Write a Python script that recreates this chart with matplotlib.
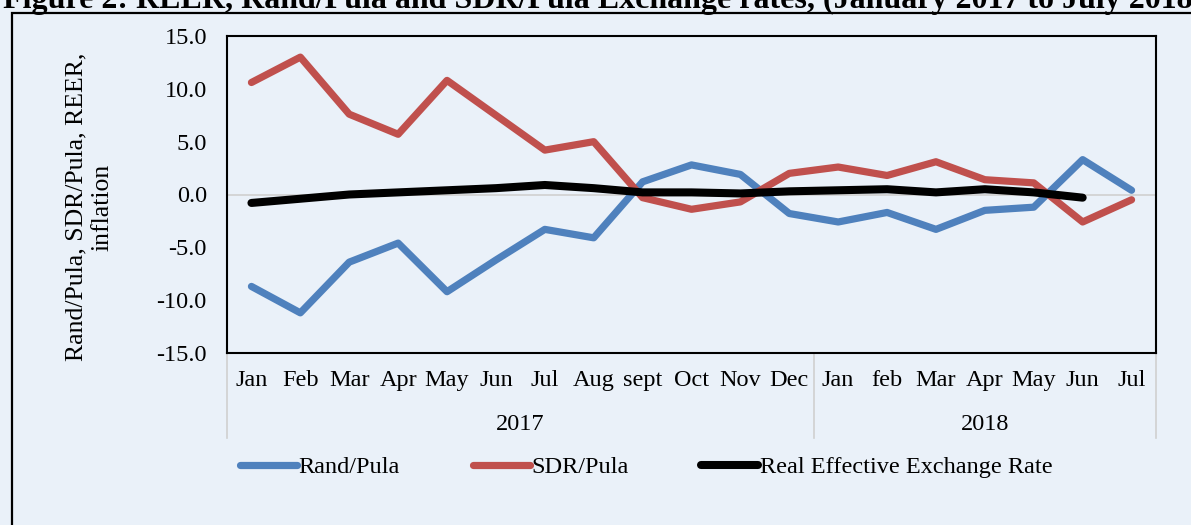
import matplotlib.pyplot as plt
from matplotlib.patches import Rectangle
import matplotlib.transforms as mtransforms

plt.rcParams['font.family'] = ['Liberation Serif', 'DejaVu Serif']

months = ['Jan', 'Feb', 'Mar', 'Apr', 'May', 'Jun', 'Jul', 'Aug', 'sept', 'Oct', 'Nov', 'Dec',
          'Jan', 'feb', 'Mar', 'Apr', 'May', 'Jun', 'Jul']
years = ['2017', '2018']
months_per_year = [12, 7]

rand_pula = [-8.7, -11.2, -6.4, -4.6, -9.2, -6.2, -3.3, -4.1, 1.2, 2.8, 1.9, -1.8,
             -2.6, -1.7, -3.3, -1.5, -1.2, 3.3, 0.4]
sdr_pula = [10.6, 13.0, 7.6, 5.7, 10.8, 7.5, 4.2, 5.0, -0.3, -1.4, -0.7, 2.0,
            2.6, 1.8, 3.1, 1.4, 1.1, -2.6, -0.5]
reer = [-0.8, -0.4, 0.0, 0.2, 0.4, 0.6, 0.9, 0.6, 0.2, 0.2, 0.1, 0.3,
        0.4, 0.5, 0.2, 0.5, 0.2, -0.3]

fs = 17.5
bg = '#eaf1f9'
fig = plt.figure(figsize=(11.91, 5.25), dpi=100, facecolor=bg)
ax = fig.add_axes([227 / 1191, 1 - 353 / 525, 929 / 1191, 317 / 525])
ax.set_facecolor('none')

x = list(range(len(months)))
ax.plot(x, rand_pula, color='#4f81bd', lw=5.2, solid_capstyle='round', solid_joinstyle='round', label='Rand/Pula')
ax.plot(x, sdr_pula, color='#c0504d', lw=5.2, solid_capstyle='round', solid_joinstyle='round', label='SDR/Pula')
ax.plot(x[:len(reer)], reer, color='black', lw=5.8, solid_capstyle='round', solid_joinstyle='round',
        label='Real Effective Exchange Rate')
ax.axhline(0, color='#d0d0d0', lw=1.2, zorder=0)

ax.set_xlim(-0.5, len(months) - 0.5)
ax.set_ylim(-15, 15)
yt = [-15, -10, -5, 0, 5, 10, 15]
ax.set_yticks(yt)
ax.set_yticklabels(['%.1f' % v for v in yt])
ax.set_xticks(x)
ax.set_xticklabels(months)
ax.tick_params(axis='both', length=0, labelsize=fs)
ax.tick_params(axis='y', pad=14.5)
ax.tick_params(axis='x', pad=12)
for s in ax.spines.values():
    s.set_linewidth(1.5)
ax.set_ylabel('Rand/Pula, SDR/Pula, REER,\ninflation', fontsize=18.5, linespacing=1.25)
ax.yaxis.set_label_coords(-0.122, 0.46)

# two-level category axis
trans = mtransforms.blended_transform_factory(ax.transData, ax.transAxes)
start = -0.5
bounds = [start]
for yr, n in zip(years, months_per_year):
    ax.text(start + n / 2, -0.224, yr, transform=trans, ha='center', va='center', fontsize=fs)
    start += n
    bounds.append(start)
for b in bounds:
    ax.plot([b, b], [0, -0.268], transform=trans, color='#d0d0d0', lw=1.2, clip_on=False)

handles, labels = ax.get_legend_handles_labels()
fig.legend(handles, labels, loc='center left', bbox_to_anchor=(240 / 1191, 1 - 467 / 525), ncol=3,
           frameon=False, fontsize=fs, handlelength=2.35, handletextpad=0.05, columnspacing=3.0,
           borderpad=0, borderaxespad=0)

fig.text(3 / 1191, 1 - 8 / 525, 'Figure 2: REER, Rand/Pula and SDR/Pula Exchange rates, (January 2017 to July 2018)',
         fontsize=23, weight='bold', ha='left', va='baseline')

fig.patches.append(Rectangle((12 / 1191, -0.1), 1.2, 1 - 12.5 / 525 + 0.1, transform=fig.transFigure,
                             fill=False, edgecolor='black', lw=1.6))

fig.savefig('out.png', dpi=100, facecolor=bg)
